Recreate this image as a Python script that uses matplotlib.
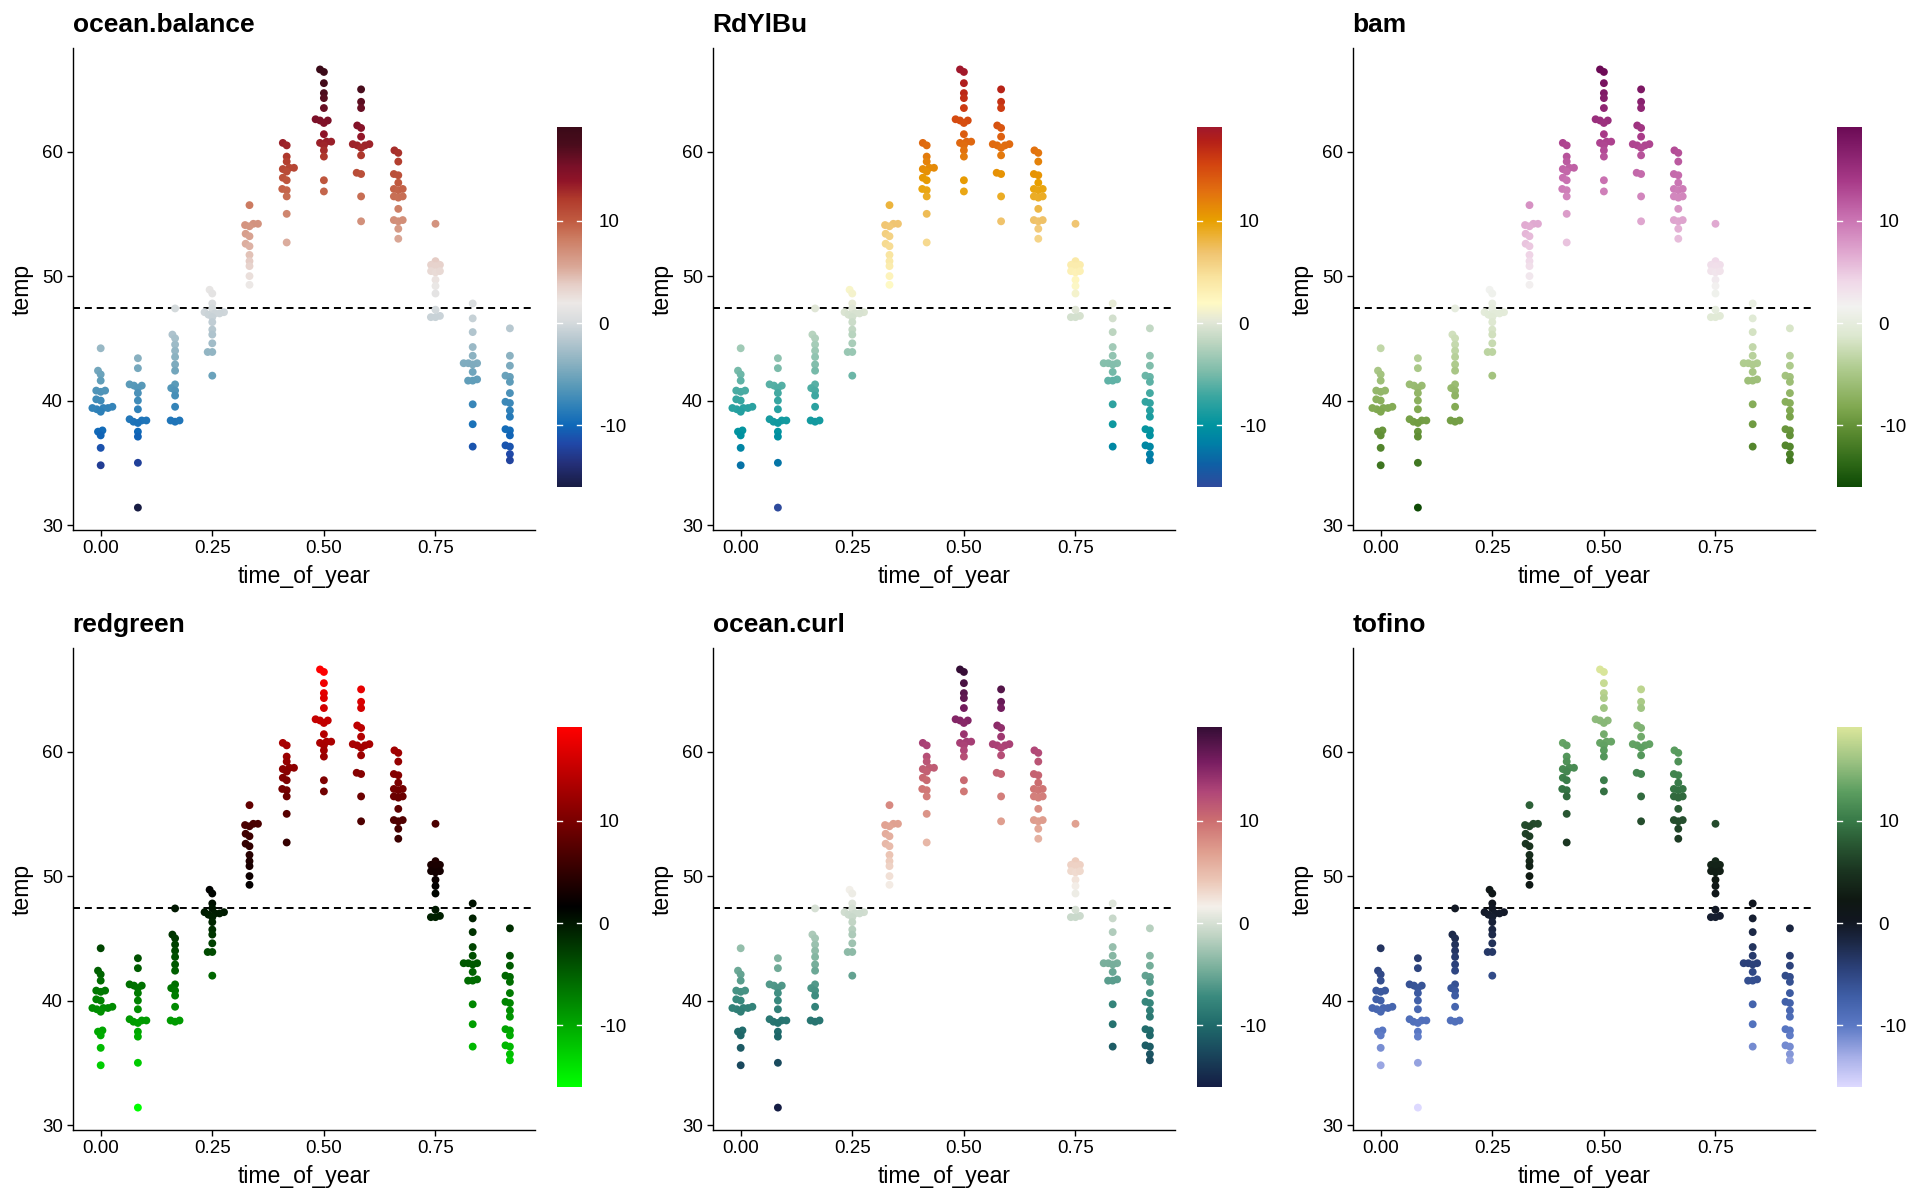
import numpy as np
import matplotlib
matplotlib.use("Agg")
import matplotlib.pyplot as plt
from matplotlib.colors import LinearSegmentedColormap, Normalize
from matplotlib.cm import ScalarMappable

plt.rcParams['font.family'] = ['Liberation Sans', 'DejaVu Sans']

# ---------------- data ----------------
time_of_year = [0/12, 1/12, 2/12, 3/12, 4/12, 5/12, 6/12, 7/12, 8/12, 9/12, 10/12, 11/12]

temp_m01 = [44.2, 42.4, 42.1, 41.6, 40.8, 40.7, 40.8, 40.0, 40.1, 39.4, 39.4, 39.5, 39.3, 39.4,
            39.1, 37.6, 37.5, 37.2, 36.2, 34.8]
temp_m02 = [43.4, 42.6, 41.3, 41.2, 41.2, 41.0, 40.6, 40.0, 39.3, 38.5, 38.4, 38.4, 38.3, 38.2,
            37.5, 37.1, 35.0, 31.4]
temp_m03 = [47.4, 45.3, 45.0, 44.5, 44.0, 43.5, 42.9, 42.4, 41.3, 41.0, 40.8, 40.4, 39.5, 38.4,
            38.3, 38.4]
temp_m04 = [48.9, 48.6, 47.8, 47.4, 47.1, 47.0, 47.1, 47.0, 46.9, 46.7, 46.3, 45.7, 45.3, 44.6,
            43.9, 43.9, 42.0]
temp_m05 = [55.7, 54.2, 54.2, 54.1, 54.0, 53.4, 53.2, 52.6, 52.4, 51.7, 51.2, 50.8, 50.0, 49.3]
temp_m06 = [60.7, 60.5, 59.6, 59.2, 58.7, 58.6, 58.7, 58.4, 57.9, 57.7, 57.0, 56.9, 56.4, 55.0,
            52.7]
temp_m07 = [66.6, 66.4, 65.5, 64.7, 64.3, 63.5, 62.6, 62.5, 62.5, 62.3, 61.4, 60.8, 60.8, 60.7,
            60.5, 60.1, 59.6, 57.7, 56.8]
temp_m08 = [65.0, 64.0, 63.5, 62.1, 61.9, 61.2, 60.6, 60.5, 60.6, 60.5, 60.3, 59.7, 58.3, 58.2,
            56.4, 54.4]
temp_m09 = [60.1, 59.9, 59.2, 58.2, 58.1, 57.5, 57.0, 56.9, 57.0, 56.4, 56.3, 56.4, 55.4, 54.5,
            54.4, 54.5, 53.8, 53.0]
temp_m10 = [54.2, 51.2, 50.9, 50.9, 50.8, 50.4, 50.3, 50.4, 49.7, 49.2, 48.6, 47.3, 46.8, 46.7,
            46.7]
temp_m11 = [47.8, 46.6, 45.5, 44.3, 43.6, 43.0, 43.0, 42.9, 43.0, 42.3, 41.7, 41.6, 41.6, 39.7,
            38.1, 36.3]
temp_m12 = [45.8, 43.6, 42.8, 42.0, 41.9, 41.5, 40.6, 39.9, 39.8, 39.2, 38.7, 37.7, 37.6, 37.2,
            36.4, 36.3, 35.7, 35.2]

temp_groups = [temp_m01, temp_m02, temp_m03, temp_m04, temp_m05, temp_m06,
               temp_m07, temp_m08, temp_m09, temp_m10, temp_m11, temp_m12]

mean_temp = 47.4

panel_titles = ["ocean.balance", "RdYlBu", "bam", "redgreen", "ocean.curl", "tofino"]
x_ticks = [0.0, 0.25, 0.5, 0.75]
x_ticklabels = ["0.00", "0.25", "0.50", "0.75"]
y_ticks = [30, 40, 50, 60]
cbar_ticks = [-10, 0, 10]

palette_nodes = {
    "ocean.balance": [(0.00, "#181c43"), (0.065, "#24307a"), (0.12, "#2048a8"), (0.17, "#0f68b8"),
                      (0.22, "#2e80b8"), (0.28, "#5a9ab8"), (0.34, "#88b0c0"), (0.41, "#b8c8d0"),
                      (0.46, "#d8dcde"), (0.51, "#ece8e6"), (0.56, "#e6cfc8"), (0.61, "#daa898"),
                      (0.69, "#cc7c62"), (0.74, "#c05a40"), (0.80, "#b03a2c"), (0.85, "#901428"),
                      (0.89, "#7a1028"), (0.95, "#4a0c1c"), (1.00, "#3a0a18")],
    "RdYlBu": [(0.00, "#2e4a9c"), (0.06, "#0f5fa5"), (0.12, "#007fa6"), (0.17, "#00939f"),
               (0.25, "#3aa6a0"), (0.32, "#7ebcaa"), (0.40, "#bcd5c0"), (0.46, "#e4e8d8"),
               (0.51, "#fff9c4"), (0.58, "#f9e4a0"), (0.65, "#f0c470"), (0.74, "#e8a000"),
               (0.82, "#e27010"), (0.90, "#d24210"), (0.96, "#b52018"), (1.00, "#a0182c")],
    "bam": [(0.00, "#0e4a05"), (0.07, "#306a18"), (0.15, "#5a8a30"), (0.22, "#80a850"),
            (0.33, "#b0cc90"), (0.42, "#dde8d0"), (0.50, "#f2f2f0"), (0.57, "#f0d8e8"),
            (0.65, "#e0a8d0"), (0.75, "#c870b0"), (0.85, "#a83a88"), (1.00, "#6b0a55")],
    "redgreen": [(0.00, "#00ff00"), (0.50, "#000000"), (1.00, "#ff0000")],
    "ocean.curl": [(0.00, "#151d44"), (0.10, "#1a4a5e"), (0.17, "#1f6a6a"), (0.25, "#3a8a7e"),
                   (0.33, "#7ab09c"), (0.42, "#c0d4c4"), (0.50, "#f4f0ea"), (0.57, "#ecc8b8"),
                   (0.65, "#e0a090"), (0.74, "#cc6e70"), (0.82, "#b04678"), (0.90, "#7a1e62"),
                   (1.00, "#340d35")],
    "tofino": [(0.00, "#ddd9ff"), (0.08, "#a8b0e8"), (0.17, "#5a78c4"), (0.25, "#3f5ea6"),
               (0.33, "#2b4078"), (0.40, "#1c2846"), (0.46, "#111620"), (0.52, "#0f1812"),
               (0.60, "#1a3420"), (0.68, "#2a5a34"), (0.74, "#387a48"), (0.82, "#5c9e60"),
               (0.90, "#98c080"), (1.00, "#dbe69b")],
}


def swarm_offsets(y_px, d):
    """Greedy beeswarm: place points (sorted by y) as close to the centre as possible."""
    order = np.argsort(y_px, kind="stable")
    placed = []
    out = np.zeros(len(y_px))
    for i in order:
        y = y_px[i]
        cands = [0.0]
        for px, py in placed:
            dy = abs(py - y)
            if dy < d:
                dx = np.sqrt(d * d - dy * dy)
                cands += [px + dx, px - dx]
        cands.sort(key=lambda v: (abs(v), v))
        for cnd in cands:
            if all((cnd - px) ** 2 + (y - py) ** 2 >= d * d - 1e-6 for px, py in placed):
                out[i] = cnd
                break
        placed.append((out[i], y))
    return out


# ---------------- figure ----------------
W, H = 1920, 1200
fig = plt.figure(figsize=(W / 100, H / 100), dpi=100)

XLIM = (-0.0627, 0.9729)
YLIM = (29.6, 68.3)

all_dev = np.concatenate([np.array(g) - mean_temp for g in temp_groups])
norm = Normalize(vmin=all_dev.min(), vmax=all_dev.max())

TICK_FS = 13.5
LABEL_FS = 16.6
TITLE_FS = 19

for idx, title in enumerate(panel_titles):
    r, c = divmod(idx, 3)
    ax_l, ax_t, ax_w, ax_h = 72.7 + 640 * c, 48.3 + 600 * r, 462.3, 481.7
    ax = fig.add_axes([ax_l / W, 1 - (ax_t + ax_h) / H, ax_w / W, ax_h / H])
    ax.set_xlim(XLIM)
    ax.set_ylim(YLIM)
    cmap = LinearSegmentedColormap.from_list(title, palette_nodes[title], N=512)

    px_x = ax_w / (XLIM[1] - XLIM[0])
    px_y = ax_h / (YLIM[1] - YLIM[0])
    for t, temps in zip(time_of_year, temp_groups):
        temps = np.array(temps, dtype=float)
        off = swarm_offsets(temps * px_y, 4.6)
        ax.scatter(t + off / px_x, temps, c=temps - mean_temp, cmap=cmap, norm=norm,
                   s=32, linewidths=0, zorder=3)

    ax.axhline(mean_temp, color="black", ls=(0, (3.6, 2.5)), lw=1.4, zorder=2)

    for side in ("top", "right"):
        ax.spines[side].set_visible(False)
    for side in ("left", "bottom"):
        ax.spines[side].set_linewidth(1.0)
        ax.spines[side].set_color("black")
    ax.set_xticks(x_ticks)
    ax.set_xticklabels(x_ticklabels)
    ax.set_yticks(y_ticks)
    ax.tick_params(axis="both", direction="out", length=4, width=1.0, colors="black",
                   labelsize=TICK_FS, pad=3)

    ax.set_xlabel("time_of_year", fontsize=LABEL_FS)
    ax.xaxis.set_label_coords(0.5, -(576 - 530) / ax_h)
    ax.xaxis.label.set_va("center")
    ax.set_ylabel("temp", fontsize=LABEL_FS)
    ax.yaxis.set_label_coords((22 - 72.7) / ax_w, 0.5)
    ax.yaxis.label.set_va("center")

    ax.set_title(title, loc="left", fontsize=TITLE_FS, fontweight="bold", pad=12)

    # colour bar
    cb_l, cb_t, cb_w, cb_h = 557 + 640 * c, 126.7 + 600 * r, 25, 360
    cax = fig.add_axes([cb_l / W, 1 - (cb_t + cb_h) / H, cb_w / W, cb_h / H])
    cb = fig.colorbar(ScalarMappable(norm=norm, cmap=cmap), cax=cax)
    cb.outline.set_visible(False)
    cb.set_ticks(cbar_ticks)
    cb.set_ticklabels([str(v) for v in cbar_ticks])
    cax.tick_params(length=0, labelsize=TICK_FS, pad=12, colors="black")
    tr = cax.get_yaxis_transform()
    for v in cbar_ticks:
        cax.plot([0, 0.2], [v, v], color="white", lw=1.0, transform=tr, zorder=5)
        cax.plot([0.8, 1.0], [v, v], color="white", lw=1.0, transform=tr, zorder=5)

fig.savefig("out.png", dpi=100, facecolor="white")
